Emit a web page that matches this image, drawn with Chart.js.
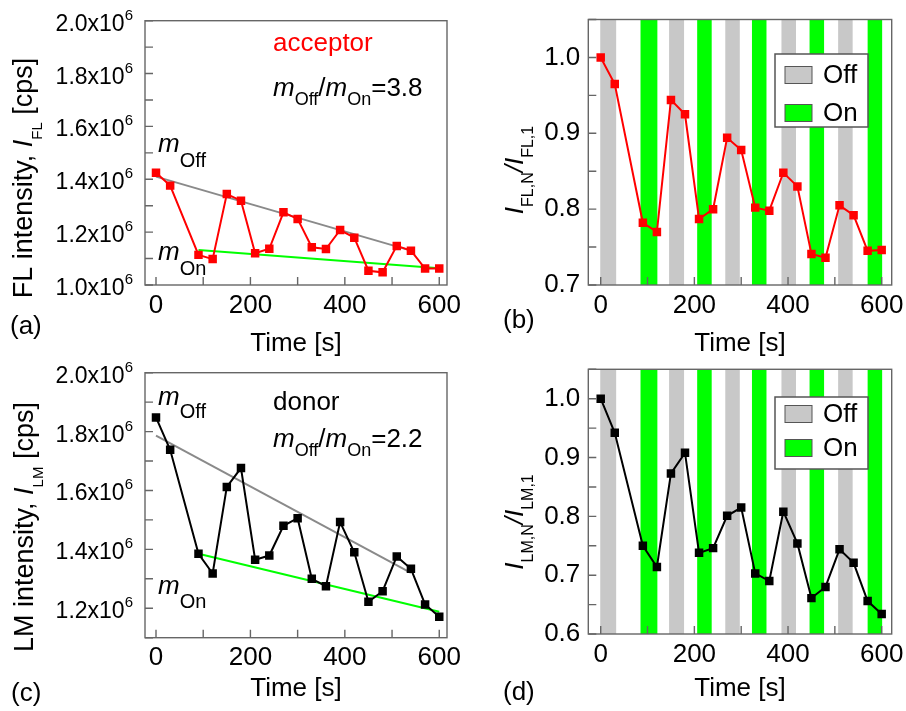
<!DOCTYPE html>
<html>
<head>
<meta charset="utf-8">
<title>FL / LM intensity under Off-On switching</title>
<script src="https://cdn.jsdelivr.net/npm/chart.js@4"></script>
<style>
  html, body { margin: 0; padding: 0; background: #fff; }
  #figure { position: relative; width: 906px; height: 711px; overflow: hidden; }
  #figure canvas { position: absolute; left: 0; top: 0; }
</style>
</head>
<body>
<div id="figure">
  <canvas id="panelA" width="906" height="711"></canvas>
  <canvas id="panelB" width="906" height="711"></canvas>
  <canvas id="panelC" width="906" height="711"></canvas>
  <canvas id="panelD" width="906" height="711"></canvas>
</div>
<script>
/* ---------- data ---------- */
const times = [0, 30, 90, 120, 150, 180, 210, 240, 270, 300, 330, 360, 390, 420, 450, 480, 510, 540, 570, 600];

// acceptor FL intensity [cps] and normalised to the first point
const flIntensity = [1.425e6, 1.376e6, 1.114e6, 1.098e6, 1.344e6, 1.319e6, 1.120e6, 1.137e6, 1.275e6, 1.250e6,
                     1.143e6, 1.136e6, 1.208e6, 1.179e6, 1.054e6, 1.048e6, 1.148e6, 1.130e6, 1.062e6, 1.062e6];
const flNorm = [1.000, 0.965, 0.782, 0.770, 0.944, 0.925, 0.787, 0.800, 0.894, 0.878,
                0.802, 0.798, 0.848, 0.830, 0.741, 0.736, 0.805, 0.792, 0.745, 0.746];

// donor LM intensity [cps] and normalised
const lmIntensity = [1.848e6, 1.738e6, 1.385e6, 1.318e6, 1.612e6, 1.676e6, 1.365e6, 1.379e6, 1.480e6, 1.506e6,
                     1.300e6, 1.275e6, 1.493e6, 1.390e6, 1.222e6, 1.258e6, 1.376e6, 1.334e6, 1.213e6, 1.171e6];
const lmNorm = [1.000, 0.942, 0.750, 0.714, 0.873, 0.908, 0.738, 0.746, 0.801, 0.815,
                0.703, 0.690, 0.808, 0.754, 0.661, 0.680, 0.744, 0.721, 0.656, 0.634];

// linear fits through the Off and On points  [time, intensity]
const flFitOff = [[0, 1.410e6], [540, 1.130e6]];
const flFitOn  = [[90, 1.132e6], [600, 1.063e6]];
const lmFitOff = [[0, 1.786e6], [540, 1.320e6]];
const lmFitOn  = [[90, 1.385e6], [600, 1.188e6]];

// illumination periods [start, end] in s
const offPeriods = [[-1, 33], [146, 178], [266, 297], [386, 417], [507, 538]];
const onPeriods  = [[85, 121], [206, 237], [323, 354], [446, 477], [570, 601]];

/* ---------- style ---------- */
const FONT = '"Liberation Sans", Arial, Helvetica, sans-serif';
const OFF_GRAY = '#c8c8c8';
const ON_GREEN = '#00ff00';
const FRAME = '#666666';
const W = 906, H = 711;

Chart.defaults.font.family = FONT;
Chart.defaults.font.size = 26;
Chart.defaults.color = '#000';

// text made of runs: [text, flags]  flags: i = italic, s = subscript, u = superscript
function drawRich(ctx, item) {
  const base = item.size || 26, small = item.sub || 18, drop = item.drop || 8;
  const parts = item.runs.map(([t, st = '']) => {
    const size = st.includes('s') ? small : st.includes('u') ? item.supSize : base;
    const font = (st.includes('i') ? 'italic ' : '') + size + 'px ' + FONT;
    ctx.font = font;
    const dy = st.includes('s') ? drop : st.includes('u') ? -item.rise : 0;
    return { t, font, dy, w: ctx.measureText(t).width };
  });
  const total = parts.reduce((s, p) => s + p.w, 0);
  ctx.save();
  ctx.translate(item.x, item.y);
  if (item.rotate) ctx.rotate(-Math.PI / 2);
  ctx.fillStyle = item.color || '#000';
  ctx.textBaseline = 'alphabetic';
  ctx.textAlign = 'left';
  let x = item.center ? -total / 2 : item.right ? -total : 0;
  parts.forEach(p => { ctx.font = p.font; ctx.fillText(p.t, x, p.dy); x += p.w; });
  ctx.restore();
}

// stripes, frame, inward ticks, legend box and labels for one panel
function decor(p) {
  return {
    id: 'decor',
    beforeDatasetsDraw(chart) {
      if (!p.stripes) return;
      const { ctx, chartArea: a, scales: { x } } = chart;
      ctx.save();
      [[offPeriods, OFF_GRAY], [onPeriods, ON_GREEN]].forEach(([spans, color]) => {
        ctx.fillStyle = color;
        spans.forEach(([t0, t1]) => {
          const x0 = x.getPixelForValue(t0), x1 = x.getPixelForValue(t1);
          ctx.fillRect(x0, a.top, x1 - x0, a.bottom - a.top);
        });
      });
      ctx.restore();
    },
    afterDraw(chart) {
      const { ctx, chartArea: a, scales: { x, y } } = chart;
      ctx.save();
      ctx.strokeStyle = FRAME;
      ctx.lineWidth = 1.4;
      ctx.beginPath();
      x.ticks.forEach(t => {
        const px = x.getPixelForValue(t.value);
        ctx.moveTo(px, a.bottom); ctx.lineTo(px, a.bottom - 8);
      });
      y.ticks.forEach(t => {
        const py = y.getPixelForValue(t.value);
        ctx.moveTo(a.left, py); ctx.lineTo(a.left + 8, py);
      });
      ctx.stroke();
      ctx.strokeRect(a.left, a.top, a.right - a.left, a.bottom - a.top);

      if (p.legend) {
        const [bx, by, bw, bh] = p.legend.box;
        ctx.fillStyle = '#fff';
        ctx.fillRect(bx, by, bw, bh);
        ctx.strokeStyle = '#555';
        ctx.lineWidth = 1.5;
        ctx.strokeRect(bx, by, bw, bh);
        [['Off', OFF_GRAY], ['On', ON_GREEN]].forEach(([label, color], i) => {
          const cy = p.legend.rows[i];
          ctx.fillStyle = color;
          ctx.fillRect(bx + 10, cy - 8.5, 27, 17);
          ctx.lineWidth = 1;
          ctx.strokeRect(bx + 10, cy - 8.5, 27, 17);
          ctx.fillStyle = '#000';
          ctx.font = '26px ' + FONT;
          ctx.textBaseline = 'middle';
          ctx.fillText(label, bx + 48, cy + 1);
        });
      }
      ctx.restore();

      // "1.8x10^6" style labels need a real superscript, so they are set here
      if (p.sciTicks) {
        y.ticks.forEach(t => {
          const label = p.yLabel(t.value);
          if (!label) return;
          drawRich(ctx, {
            x: a.left - 12, y: y.getPixelForValue(t.value) + 10, right: true,
            size: 23, supSize: 15, rise: 11, runs: [[label + 'x10'], ['6', 'u']]
          });
        });
      }
      p.texts.forEach(t => drawRich(ctx, t));
    }
  };
}

// the axes take the whole margin so the plot box lands exactly on p.area
function fitTo(size) {
  return scale => {
    if (scale.isHorizontal()) scale.height = size; else scale.width = size;
    scale.paddingLeft = scale.paddingRight = scale.paddingTop = scale.paddingBottom = 0;
  };
}

const sciLabel = v => (Math.round(v / 1e5) % 2 === 0) ? (v / 1e6).toFixed(1) : '';
const normLabel = v => (Math.round(v * 100) % 10 === 0) ? v.toFixed(1) : '';

function makePanel(canvasId, p) {
  const [left, top, right, bottom] = p.area;
  const datasets = [{
    data: times.map((t, i) => ({ x: t, y: p.values[i] })),
    borderColor: p.color,
    backgroundColor: p.color,
    borderWidth: 2,
    pointStyle: 'rect',
    pointRadius: 6,
    pointBorderWidth: 0,
    tension: 0
  }];
  if (p.fits) {
    [[p.fits[0], '#8a8a8a'], [p.fits[1], ON_GREEN]].forEach(([seg, color]) => {
      datasets.push({
        data: seg.map(([t, v]) => ({ x: t, y: v })),
        borderColor: color,
        borderWidth: 2,
        pointRadius: 0
      });
    });
  }
  return new Chart(document.getElementById(canvasId), {
    type: 'line',
    data: { datasets },
    plugins: [decor(p)],
    options: {
      responsive: false,
      animation: false,
      events: [],
      layout: { padding: { left: 0, top, right: W - right, bottom: 0 } },
      plugins: { legend: { display: false }, tooltip: { enabled: false } },
      scales: {
        x: {
          type: 'linear', min: p.xRange[0], max: p.xRange[1],
          afterFit: fitTo(H - bottom),
          grid: { display: false, drawTicks: false },
          border: { display: false },
          ticks: {
            stepSize: 100, includeBounds: false, autoSkip: false, maxRotation: 0, padding: 5,
            font: { size: 26 },
            callback: v => (v % 200 === 0 ? String(v) : '')
          }
        },
        y: {
          type: 'linear', min: p.yRange[0], max: p.yRange[1],
          afterFit: fitTo(left),
          grid: { display: false, drawTicks: false },
          border: { display: false },
          ticks: {
            display: !p.sciTicks,
            stepSize: p.yStep, includeBounds: false, autoSkip: false, padding: 8,
            font: { size: 26 },
            callback: p.yLabel
          }
        }
      }
    }
  });
}

/* ---------- panels ---------- */
makePanel('panelA', {
  values: flIntensity, color: '#ff0000', fits: [flFitOff, flFitOn],
  area: [145, 20.7, 447, 285], xRange: [-23.3, 616.4], yRange: [1.0e6, 2.0e6],
  yStep: 1e5, yLabel: sciLabel, sciTicks: true,
  texts: [
    { x: 32, y: 178, rotate: true, center: true, size: 27, sub: 15, drop: 10,
      runs: [['FL intensity, '], ['I', 'i'], ['FL', 's'], [' [cps]']] },
    { x: 296, y: 351, center: true, runs: [['Time [s]']] },
    { x: 10, y: 334, runs: [['(a)']] },
    { x: 273, y: 51, color: '#ff0000', runs: [['acceptor']] },
    { x: 273, y: 96, sub: 18, drop: 9,
      runs: [['m', 'i'], ['Off', 's'], ['/'], ['m', 'i'], ['On', 's'], ['=3.8']] },
    { x: 158, y: 152, sub: 20, drop: 15, runs: [['m', 'i'], ['Off', 's']] },
    { x: 158, y: 260, sub: 20, drop: 15, runs: [['m', 'i'], ['On', 's']] }
  ]
});

makePanel('panelB', {
  values: flNorm, color: '#ff0000', stripes: true,
  area: [588.3, 19.5, 891.7, 285], xRange: [-26.5, 621.4], yRange: [0.7, 1.05],
  yStep: 0.05, yLabel: normLabel,
  legend: { box: [775, 54, 93, 73], rows: [75, 113] },
  texts: [
    { x: 523, y: 170, rotate: true, center: true, sub: 16, drop: 10,
      runs: [['I', 'i'], ['FL,N', 's'], ['/', 'i'], ['I', 'i'], ['FL,1', 's']] },
    { x: 740, y: 351, center: true, runs: [['Time [s]']] },
    { x: 503, y: 328, runs: [['(b)']] }
  ]
});

makePanel('panelC', {
  values: lmIntensity, color: '#000000', fits: [lmFitOff, lmFitOn],
  area: [145, 372.7, 447, 637.7], xRange: [-23.3, 616.4], yRange: [1.1e6, 2.0e6],
  yStep: 1e5, yLabel: sciLabel, sciTicks: true,
  texts: [
    { x: 33, y: 527, rotate: true, center: true, size: 27, sub: 15, drop: 10,
      runs: [['LM intensity, '], ['I', 'i'], ['LM', 's'], [' [cps]']] },
    { x: 296, y: 696, center: true, runs: [['Time [s]']] },
    { x: 11, y: 701, runs: [['(c)']] },
    { x: 273, y: 410, runs: [['donor']] },
    { x: 273, y: 447, sub: 18, drop: 9,
      runs: [['m', 'i'], ['Off', 's'], ['/'], ['m', 'i'], ['On', 's'], ['=2.2']] },
    { x: 158, y: 405, sub: 20, drop: 13, runs: [['m', 'i'], ['Off', 's']] },
    { x: 158, y: 594, sub: 20, drop: 14, runs: [['m', 'i'], ['On', 's']] }
  ]
});

makePanel('panelD', {
  values: lmNorm, color: '#000000', stripes: true,
  area: [588.3, 369.3, 891.7, 634], xRange: [-26.5, 621.4], yRange: [0.6, 1.05],
  yStep: 0.05, yLabel: normLabel,
  legend: { box: [775, 397, 93, 72], rows: [414, 448] },
  texts: [
    { x: 523, y: 522, rotate: true, center: true, sub: 16, drop: 10,
      runs: [['I', 'i'], ['LM,N', 's'], ['/', 'i'], ['I', 'i'], ['LM,1', 's']] },
    { x: 740, y: 696, center: true, runs: [['Time [s]']] },
    { x: 503, y: 700, runs: [['(d)']] }
  ]
});
</script>
</body>
</html>
